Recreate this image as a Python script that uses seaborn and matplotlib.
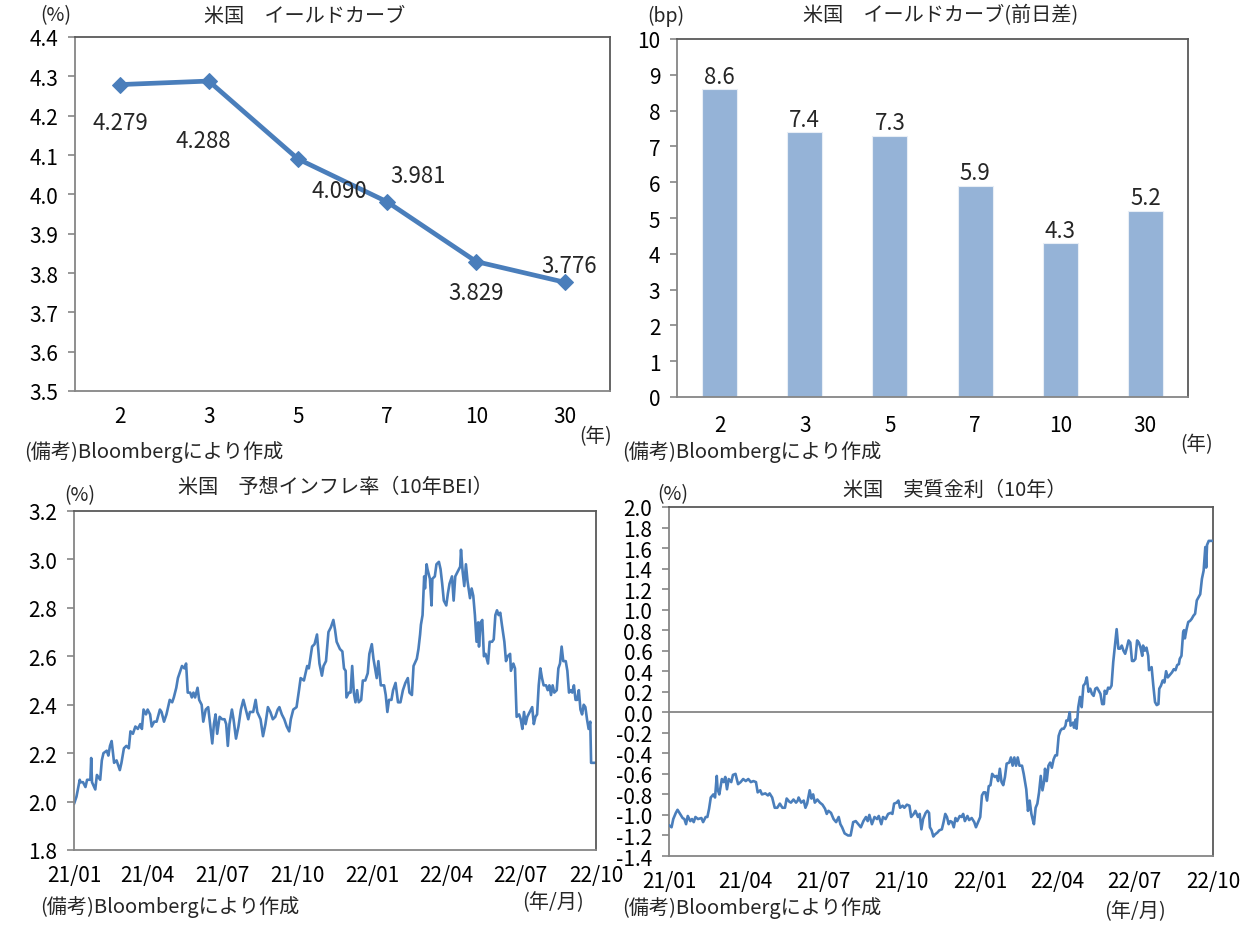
import numpy as np
import pandas as pd
import matplotlib
matplotlib.use('Agg')
import matplotlib.pyplot as plt
import matplotlib.dates as mdates
from matplotlib.ticker import FormatStrFormatter, MultipleLocator
import seaborn as sns

# ---------------- data ----------------
tenors = ['2', '3', '5', '7', '10', '30']
yields = [4.279, 4.288, 4.090, 3.981, 3.829, 3.776]
yield_labels = ['4.279', '4.288', '4.090', '3.981', '3.829', '3.776']
daily_change_bp = [8.6, 7.4, 7.3, 5.9, 4.3, 5.2]

series_start = '2021-01-01'

bei_day = [0, 3, 7, 8, 11, 14, 16, 20, 21, 22, 26, 28, 32, 34, 36, 40, 42, 44, 46, 49,
           52, 56, 58, 61, 64, 67, 69, 72, 75, 78, 81, 83, 85, 88, 90, 93, 95, 98, 101, 105,
           107, 110, 113, 117, 120, 122, 125, 127, 130, 132, 135, 137, 139, 142, 144, 146, 148, 151, 153, 156,
           158, 161, 164, 167, 169, 171, 173, 175, 178, 181, 184, 186, 188, 190, 193, 195, 198, 201, 204, 207,
           210, 213, 215, 219, 222, 224, 228, 231, 234, 237, 240, 243, 246, 249, 251, 254, 257, 260, 263, 265,
           268, 272, 275, 277, 281, 285, 287, 291, 294, 297, 300, 303, 305, 308, 311, 314, 317, 319, 321, 325,
           328, 330, 332, 333, 336, 338, 340, 342, 344, 346, 348, 351, 353, 356, 359, 361, 364, 366, 370, 372,
           375, 379, 381, 383, 385, 388, 390, 393, 396, 399, 402, 405, 408, 410, 413, 415, 419, 421, 423, 424,
           426, 428, 429, 431, 432, 435, 437, 438, 441, 443, 446, 448, 450, 452, 455, 457, 459, 462, 464, 466,
           469, 472, 473, 475, 477, 479, 481, 484, 486, 488, 490, 492, 494, 495, 497, 499, 501, 503, 506, 508,
           511, 513, 515, 517, 519, 521, 523, 526, 528, 530, 533, 534, 537, 539, 541, 544, 546, 548, 550, 552,
           554, 557, 560, 562, 564, 566, 568, 570, 572, 574, 577, 579, 581, 583, 585, 587, 590, 592, 594, 596,
           598, 601, 603, 605, 607, 609, 611, 613, 615, 617, 619, 621, 623, 625, 627, 629, 631, 632, 637]
bei_val = [1.99, 2.02, 2.09, 2.08, 2.08, 2.06, 2.09, 2.09, 2.18, 2.08, 2.05, 2.11, 2.09, 2.17, 2.20, 2.21, 2.19, 2.23, 2.25, 2.16,
           2.17, 2.13, 2.16, 2.22, 2.23, 2.22, 2.29, 2.28, 2.31, 2.30, 2.32, 2.30, 2.38, 2.36, 2.38, 2.36, 2.31, 2.33, 2.33, 2.38,
           2.37, 2.33, 2.36, 2.42, 2.41, 2.43, 2.47, 2.51, 2.54, 2.56, 2.55, 2.57, 2.45, 2.45, 2.43, 2.45, 2.43, 2.47, 2.42, 2.40,
           2.33, 2.38, 2.39, 2.30, 2.24, 2.32, 2.36, 2.28, 2.35, 2.34, 2.34, 2.32, 2.23, 2.32, 2.38, 2.34, 2.26, 2.31, 2.38, 2.42,
           2.38, 2.34, 2.37, 2.37, 2.42, 2.37, 2.34, 2.27, 2.32, 2.39, 2.37, 2.34, 2.35, 2.38, 2.39, 2.36, 2.34, 2.31, 2.29, 2.34,
           2.38, 2.39, 2.46, 2.51, 2.50, 2.56, 2.55, 2.64, 2.65, 2.69, 2.57, 2.52, 2.56, 2.58, 2.70, 2.72, 2.75, 2.71, 2.66, 2.63,
           2.62, 2.55, 2.54, 2.43, 2.45, 2.45, 2.56, 2.45, 2.41, 2.46, 2.41, 2.42, 2.50, 2.50, 2.53, 2.61, 2.65, 2.59, 2.51, 2.58,
           2.48, 2.48, 2.44, 2.37, 2.42, 2.42, 2.46, 2.49, 2.41, 2.41, 2.46, 2.49, 2.51, 2.45, 2.44, 2.56, 2.59, 2.63, 2.69, 2.73,
           2.77, 2.93, 2.88, 2.98, 2.96, 2.92, 2.81, 2.92, 2.93, 2.98, 2.99, 2.96, 2.90, 2.83, 2.81, 2.86, 2.90, 2.93, 2.83, 2.93,
           2.95, 2.97, 3.04, 2.95, 2.89, 2.98, 2.91, 2.84, 2.88, 2.85, 2.77, 2.66, 2.74, 2.64, 2.74, 2.75, 2.60, 2.61, 2.57, 2.66,
           2.66, 2.67, 2.77, 2.79, 2.77, 2.78, 2.73, 2.66, 2.58, 2.60, 2.61, 2.54, 2.57, 2.55, 2.35, 2.36, 2.34, 2.30, 2.37, 2.32,
           2.35, 2.37, 2.39, 2.32, 2.35, 2.36, 2.48, 2.55, 2.51, 2.48, 2.48, 2.46, 2.48, 2.44, 2.48, 2.45, 2.46, 2.55, 2.57, 2.64,
           2.58, 2.58, 2.54, 2.45, 2.46, 2.45, 2.48, 2.42, 2.42, 2.46, 2.38, 2.36, 2.40, 2.39, 2.34, 2.30, 2.33, 2.16, 2.16]

rr_day = [0, 3, 5, 8, 10, 13, 16, 18, 20, 22, 25, 27, 29, 31, 34, 38, 40, 43, 45, 47,
          49, 52, 54, 56, 57, 59, 62, 64, 66, 68, 70, 73, 75, 78, 81, 84, 87, 90, 93, 96,
          99, 102, 104, 107, 109, 113, 116, 118, 121, 124, 127, 130, 133, 136, 138, 141, 143, 146, 149, 151,
          152, 155, 158, 160, 162, 165, 167, 169, 171, 174, 177, 180, 183, 185, 187, 190, 193, 196, 199, 201,
          203, 206, 210, 213, 216, 219, 222, 225, 228, 231, 233, 235, 238, 241, 244, 246, 249, 251, 254, 257,
          260, 262, 264, 267, 269, 271, 274, 276, 279, 282, 284, 287, 289, 292, 294, 296, 298, 301, 303, 305,
          306, 308, 310, 312, 315, 317, 320, 322, 324, 326, 328, 330, 332, 334, 336, 338, 341, 343, 345, 347,
          350, 352, 355, 358, 360, 363, 365, 367, 369, 371, 373, 375, 377, 379, 382, 384, 386, 388, 390, 392,
          394, 396, 399, 401, 403, 405, 407, 409, 411, 414, 416, 419, 421, 423, 425, 427, 428, 430, 432, 434,
          436, 438, 440, 441, 443, 445, 447, 449, 451, 453, 455, 457, 459, 461, 463, 465, 466, 468, 470, 471,
          474, 475, 477, 478, 480, 482, 484, 486, 488, 490, 492, 494, 496, 498, 500, 502, 504, 506, 508, 510,
          511, 513, 515, 517, 519, 521, 523, 525, 527, 529, 531, 533, 535, 537, 539, 541, 543, 545, 547, 549,
          551, 553, 555, 556, 558, 560, 562, 563, 566, 568, 570, 572, 574, 575, 577, 579, 581, 583, 585, 587,
          590, 592, 594, 596, 598, 599, 601, 603, 604, 605, 607, 609, 611, 613, 615, 617, 619, 621, 623, 625,
          627, 629, 630, 631, 633, 637]
rr_val = [-1.10, -1.12, -1.04, -0.98, -0.95, -0.99, -1.03, -1.04, -1.09, -1.01, -1.06, -1.04, -1.07, -1.02, -1.04, -1.03, -1.07, -1.02, -1.02, -0.94,
          -0.83, -0.80, -0.83, -0.62, -0.75, -0.80, -0.65, -0.68, -0.63, -0.75, -0.65, -0.68, -0.61, -0.60, -0.70, -0.68, -0.65, -0.67, -0.65, -0.68,
          -0.67, -0.68, -0.78, -0.76, -0.80, -0.79, -0.81, -0.79, -0.83, -0.93, -0.93, -0.89, -0.93, -0.93, -0.84, -0.87, -0.88, -0.85, -0.88, -0.86,
          -0.83, -0.88, -0.86, -0.93, -0.89, -0.76, -0.84, -0.80, -0.88, -0.85, -0.88, -0.90, -0.94, -0.99, -0.96, -0.98, -1.04, -1.07, -1.02, -1.09,
          -1.12, -1.18, -1.20, -1.20, -1.07, -1.06, -1.09, -1.12, -1.06, -1.02, -1.06, -1.00, -1.09, -1.02, -1.04, -1.01, -1.09, -1.02, -1.04, -0.99,
          -0.98, -0.99, -0.89, -0.88, -0.86, -0.93, -0.91, -0.93, -0.90, -0.91, -1.02, -0.99, -0.96, -1.02, -0.99, -1.14, -1.04, -0.98, -0.96, -0.98,
          -1.12, -1.15, -1.21, -1.19, -1.17, -1.15, -1.14, -1.07, -0.99, -1.02, -1.09, -1.06, -1.07, -1.12, -1.03, -1.06, -1.01, -1.02, -0.99, -1.06,
          -1.01, -1.05, -1.03, -1.07, -1.12, -1.06, -1.02, -0.81, -0.78, -0.78, -0.86, -0.72, -0.71, -0.60, -0.63, -0.62, -0.67, -0.55, -0.68, -0.71,
          -0.63, -0.50, -0.49, -0.44, -0.52, -0.44, -0.52, -0.44, -0.52, -0.52, -0.60, -0.75, -0.96, -0.86, -0.99, -1.06, -1.09, -0.93, -0.89, -0.78,
          -0.62, -0.76, -0.67, -0.55, -0.67, -0.52, -0.49, -0.54, -0.46, -0.42, -0.42, -0.23, -0.18, -0.16, -0.16, -0.13, -0.08, -0.08, 0.00, -0.13,
          -0.10, -0.15, -0.07, -0.16, 0.05, 0.15, 0.05, 0.26, 0.28, 0.34, 0.20, 0.23, 0.18, 0.16, 0.23, 0.24, 0.21, 0.18, 0.08, 0.08,
          0.21, 0.18, 0.24, 0.23, 0.26, 0.49, 0.65, 0.81, 0.62, 0.62, 0.65, 0.60, 0.57, 0.63, 0.70, 0.68, 0.50, 0.50, 0.52, 0.70,
          0.68, 0.63, 0.55, 0.65, 0.60, 0.63, 0.55, 0.41, 0.44, 0.26, 0.10, 0.07, 0.08, 0.23, 0.26, 0.31, 0.29, 0.40, 0.34, 0.36,
          0.39, 0.42, 0.41, 0.46, 0.47, 0.52, 0.55, 0.78, 0.80, 0.72, 0.81, 0.88, 0.89, 0.91, 0.94, 0.96, 1.09, 1.12, 1.15, 1.30,
          1.38, 1.61, 1.41, 1.63, 1.67, 1.67]

# ---------------- style ----------------
sns.set_theme(style='white')
plt.rcParams['font.family'] = ['Noto Sans CJK JP', 'DejaVu Sans']
plt.rcParams['axes.unicode_minus'] = False

W, H = 1251, 928
fig = plt.figure(figsize=(W / 100, H / 100), dpi=100)
fig.patch.set_facecolor('white')


def add_ax(x0, y0, x1, y1):
    return fig.add_axes([x0 / W, 1 - y1 / H, (x1 - x0) / W, (y1 - y0) / H])


def ftext(x, y, s, **kw):
    fig.text(x / W, 1 - y / H, s, va='center', **kw)


BLUE = '#4A7EBB'
BAR = '#95B3D7'
SPINE = '#868686'
SPINE_DARK = '#595959'
TICK_FS = 15


def style(ax):
    for name, s in ax.spines.items():
        s.set_visible(True)
        s.set_color(SPINE if name in ('left', 'bottom') else SPINE_DARK)
        s.set_linewidth(1.3)
    ax.tick_params(axis='y', which='major', direction='out', length=5, width=1.2,
                   color=SPINE, pad=7, labelsize=TICK_FS, left=True, labelcolor='black')
    ax.tick_params(axis='x', which='major', length=0, pad=8, labelsize=TICK_FS, labelcolor='black')
    ax.grid(False)
    ax.set_xlabel('')
    ax.set_ylabel('')
    ax.set_facecolor('white')


# ---------- top-left: yield curve ----------
ax1 = add_ax(75, 38, 610, 392)
df1 = pd.DataFrame({'tenor': tenors, 'yield': yields})
sns.lineplot(data=df1, x='tenor', y='yield', ax=ax1, color=BLUE, lw=3.4, marker='D',
             markersize=8.5, markeredgecolor=BLUE, sort=False)
style(ax1)
ax1.set_xlim(-0.5, len(tenors) - 0.5)
ax1.set_ylim(3.5, 4.4)
ax1.yaxis.set_major_locator(MultipleLocator(0.1))
ax1.yaxis.set_major_formatter(FormatStrFormatter('%.1f'))
ax1.tick_params(axis='x', pad=10)
label_offsets = [(1, -38), (-6, -59), (41, -32), (31, 26), (0, -31), (4, 17)]
for i, (v, lab) in enumerate(zip(yields, yield_labels)):
    ax1.annotate(lab, (i, v), xytext=label_offsets[i], textcoords='offset pixels',
                 ha='center', va='center', fontsize=16)

# ---------- top-right: daily change bars ----------
ax2 = add_ax(677, 40, 1188, 398)
df2 = pd.DataFrame({'tenor': tenors, 'bp': daily_change_bp})
sns.barplot(data=df2, x='tenor', y='bp', ax=ax2, color=BAR, width=0.41, saturation=1,
            edgecolor='#E8EEF6', linewidth=0.8)
style(ax2)
ax2.set_xlim(-0.5, len(tenors) - 0.5)
ax2.set_ylim(0, 10)
ax2.yaxis.set_major_locator(MultipleLocator(1))
ax2.tick_params(axis='x', pad=12)
ax2.bar_label(ax2.containers[0], fmt='%.1f', padding=1, fontsize=16)

# ---------- bottom-left: BEI ----------
t0 = pd.Timestamp(series_start)
xmin, xmax = pd.Timestamp('2021-01-01'), pd.Timestamp('2022-10-01')

ax3 = add_ax(74, 512, 596, 851)
bei_dates = t0 + pd.to_timedelta(bei_day, unit='D')
sns.lineplot(x=bei_dates, y=bei_val, ax=ax3, color=BLUE, lw=1.9)
style(ax3)
ax3.set_xlim(xmin, xmax)
ax3.set_ylim(1.8, 3.2)
ax3.yaxis.set_major_locator(MultipleLocator(0.2))
ax3.yaxis.set_major_formatter(FormatStrFormatter('%.1f'))

# ---------- bottom-right: real rate ----------
ax4 = add_ax(669, 508, 1213, 857)
rr_dates = t0 + pd.to_timedelta(rr_day, unit='D')
ax4.axhline(0, color=SPINE, lw=1.3, zorder=1)
sns.lineplot(x=rr_dates, y=rr_val, ax=ax4, color=BLUE, lw=1.9, zorder=3)
style(ax4)
ax4.set_xlim(xmin, xmax)
ax4.set_ylim(-1.4, 2.0)
ax4.yaxis.set_major_locator(MultipleLocator(0.2))
ax4.yaxis.set_major_formatter(FormatStrFormatter('%.1f'))

for ax in (ax3, ax4):
    ax.xaxis.set_major_locator(mdates.MonthLocator(bymonth=[1, 4, 7, 10]))
    ax.xaxis.set_major_formatter(mdates.DateFormatter('%y/%m'))
    ax.tick_params(axis='x', pad=10)

# ---------- texts ----------
TFS = 14.5
ftext(305, 16, '米国　イールドカーブ', ha='center', fontsize=TFS)
ftext(56, 16, '(%)', ha='center', fontsize=14)
ftext(596, 437, '(年)', ha='center', fontsize=14)
ftext(24, 452, '(備考)Bloombergにより作成', ha='left', fontsize=TFS)

ftext(941, 16, '米国　イールドカーブ(前日差)', ha='center', fontsize=TFS)
ftext(666, 16, '(bp)', ha='center', fontsize=14)
ftext(1197, 445, '(年)', ha='center', fontsize=14)
ftext(622, 452, '(備考)Bloombergにより作成', ha='left', fontsize=TFS)

ftext(335, 488, '米国　予想インフレ率（10年BEI）', ha='center', fontsize=TFS)
ftext(80, 496, '(%)', ha='center', fontsize=14)
ftext(553, 903, '(年/月)', ha='center', fontsize=TFS)
ftext(40, 907, '(備考)Bloombergにより作成', ha='left', fontsize=TFS)

ftext(955, 490, '米国　実質金利（10年）', ha='center', fontsize=TFS)
ftext(673, 495, '(%)', ha='center', fontsize=14)
ftext(1135, 912, '(年/月)', ha='center', fontsize=TFS)
ftext(622, 908, '(備考)Bloombergにより作成', ha='left', fontsize=TFS)

fig.savefig('out.png', dpi=100, facecolor='white')
